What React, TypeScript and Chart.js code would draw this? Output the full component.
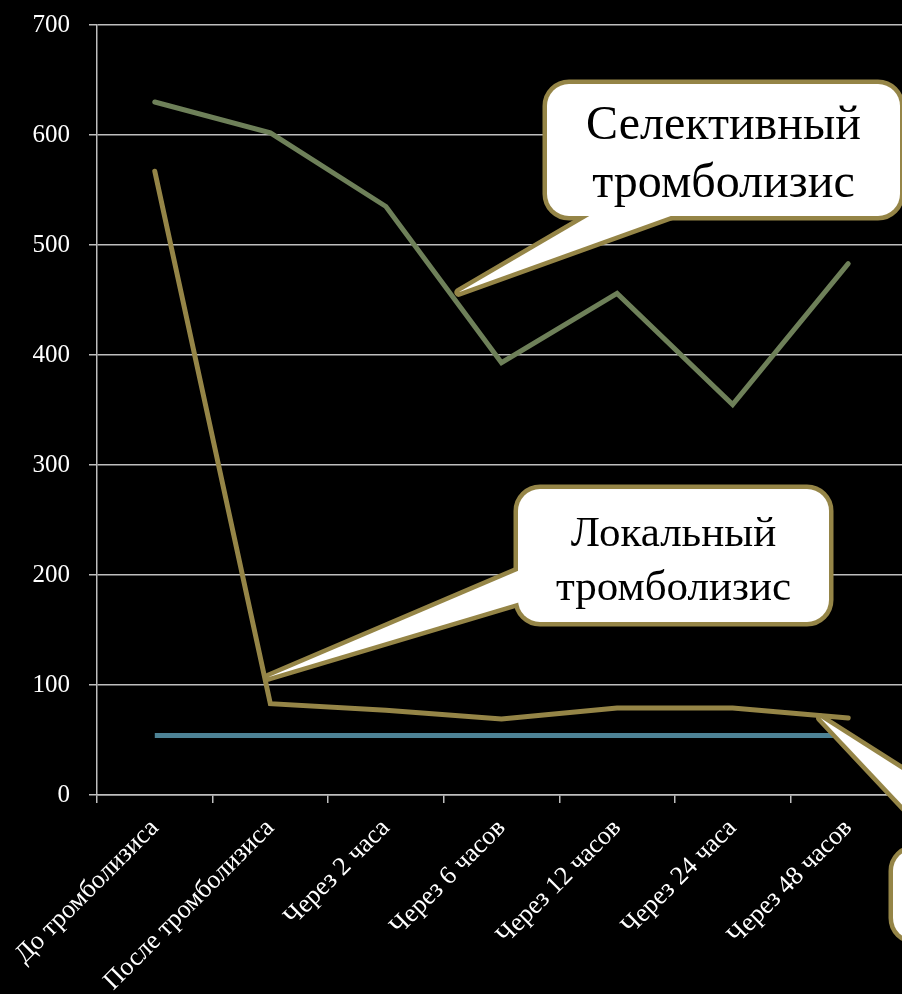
import React, { useEffect, useRef } from "react";
import { Chart, registerables } from "chart.js";

Chart.register(...registerables);

// Categories and series values
const categories = [
  "До тромболизиса",
  "После тромболизиса",
  "Через 2 часа",
  "Через 6 часов",
  "Через 12 часов",
  "Через 24 часа",
  "Через 48 часов",
];
const selectiveValues = [630, 602, 535, 393, 456, 355, 483];
const localValues = [567, 83, 77, 69, 79, 79, 70];
const baselineValues = [54, 54, 54, 54, 54, 54, 54];

const yTicks = [0, 100, 200, 300, 400, 500, 600, 700];

const GREEN = "#6E8059";
const GOLD = "#958547";
const TEAL = "#4D8295";
const GRID = "#BEBEBE";
const SERIF = "'Liberation Serif', 'Times New Roman', serif";

type Callout = {
  lines: string[];
  fontSize: number;
  lineHeight: number;
  textShift: number;
  box: { x: number; y: number; w: number; h: number };
  base: [number, number][];
  tip: { index: number; value: number };
};

// Speech-bubble labels; the tail points at a spot given in data units
const callouts: Callout[] = [
  {
    lines: ["Селективный", "тромболизис"],
    fontSize: 48,
    lineHeight: 58,
    textShift: 5,
    box: { x: 547, y: 84, w: 353, h: 132 },
    base: [
      [603, 208],
      [693, 208],
    ],
    tip: { index: 2.63, value: 457 },
  },
  {
    lines: ["Локальный", "тромболизис"],
    fontSize: 43,
    lineHeight: 54,
    textShift: 6,
    box: { x: 518, y: 489, w: 311, h: 133 },
    base: [
      [527, 567],
      [527, 600],
    ],
    tip: { index: 0.98, value: 107 },
  },
  {
    lines: [""],
    fontSize: 43,
    lineHeight: 54,
    textShift: 0,
    box: { x: 893, y: 849, w: 310, h: 91 },
    base: [
      [951, 857],
      [1039, 857],
    ],
    tip: { index: 5.76, value: 70 },
  },
];

function roundRect(ctx: CanvasRenderingContext2D, x: number, y: number, w: number, h: number, r: number) {
  ctx.beginPath();
  ctx.moveTo(x + r, y);
  ctx.lineTo(x + w - r, y);
  ctx.arcTo(x + w, y, x + w, y + r, r);
  ctx.lineTo(x + w, y + h - r);
  ctx.arcTo(x + w, y + h, x + w - r, y + h, r);
  ctx.lineTo(x + r, y + h);
  ctx.arcTo(x, y + h, x, y + h - r, r);
  ctx.lineTo(x, y + r);
  ctx.arcTo(x, y, x + r, y, r);
  ctx.closePath();
}

const calloutPlugin = {
  id: "callouts",
  afterDatasetsDraw(chart: any) {
    const ctx: CanvasRenderingContext2D = chart.ctx;
    const xs = chart.scales.x;
    const ys = chart.scales.y;
    ctx.save();
    for (const c of callouts) {
      const tx = xs.getPixelForValue(c.tip.index);
      const ty = ys.getPixelForValue(c.tip.value);
      const { x, y, w, h } = c.box;
      const tail = () => {
        ctx.beginPath();
        ctx.moveTo(c.base[0][0], c.base[0][1]);
        ctx.lineTo(tx, ty);
        ctx.lineTo(c.base[1][0], c.base[1][1]);
        ctx.closePath();
      };
      ctx.lineWidth = 9;
      ctx.strokeStyle = GOLD;
      ctx.lineJoin = "round";
      roundRect(ctx, x, y, w, h, 22);
      ctx.stroke();
      tail();
      ctx.stroke();
      ctx.fillStyle = "#FFFFFF";
      roundRect(ctx, x, y, w, h, 22);
      ctx.fill();
      tail();
      ctx.fill();

      ctx.fillStyle = "#000000";
      ctx.font = `${c.fontSize}px ${SERIF}`;
      ctx.textAlign = "center";
      ctx.textBaseline = "middle";
      const cx = x + w / 2;
      const cy = y + h / 2 + c.textShift;
      const n = c.lines.length;
      c.lines.forEach((t, i) => {
        ctx.fillText(t, cx, cy + (i - (n - 1) / 2) * c.lineHeight);
      });
    }
    ctx.restore();
  },
};

export default function App() {
  const ref = useRef<HTMLCanvasElement | null>(null);

  useEffect(() => {
    document.body.style.margin = "0";
    document.body.style.background = "#000";
    const canvas = ref.current!;
    const chart = new Chart(canvas, {
      type: "line",
      data: {
        labels: categories,
        datasets: [
          {
            label: "Селективный тромболизис",
            data: selectiveValues,
            borderColor: GREEN,
            borderWidth: 5,
            pointRadius: 0,
            borderCapStyle: "round",
            tension: 0,
          },
          {
            label: "Локальный тромболизис",
            data: localValues,
            borderColor: GOLD,
            borderWidth: 5,
            pointRadius: 0,
            borderCapStyle: "round",
            tension: 0,
          },
          {
            label: "Норма",
            data: baselineValues,
            borderColor: TEAL,
            borderWidth: 5,
            pointRadius: 0,
            tension: 0,
          },
        ],
      },
      options: {
        responsive: false,
        animation: false,
        devicePixelRatio: 1,
        layout: { padding: { top: 25, right: 0, left: 0, bottom: 0 } },
        plugins: {
          legend: { display: false },
          tooltip: { enabled: false },
        },
        scales: {
          x: {
            offset: true,
            grid: {
              offset: true,
              drawOnChartArea: false,
              drawTicks: true,
              tickLength: 8,
              color: GRID,
              lineWidth: 1.5,
            },
            border: { display: true, color: GRID, width: 1.5 },
            ticks: {
              color: "#FFFFFF",
              font: { family: SERIF, size: 26 },
              minRotation: 45,
              maxRotation: 45,
              autoSkip: false,
              padding: 10,
            },
            afterFit(scale: any) {
              scale.height = 199;
            },
          },
          y: {
            min: 0,
            max: 700,
            afterBuildTicks(scale: any) {
              scale.ticks = yTicks.map((v) => ({ value: v }));
            },
            grid: {
              color: GRID,
              lineWidth: 1.5,
              tickLength: 8,
            },
            border: { display: true, color: GRID, width: 1.5 },
            ticks: {
              color: "#FFFFFF",
              font: { family: SERIF, size: 25 },
              padding: 19,
            },
            afterFit(scale: any) {
              scale.width = 97;
              scale.paddingTop = 0;
              scale.paddingBottom = 0;
            },
          },
        },
      },
      plugins: [calloutPlugin],
    } as any);
    return () => chart.destroy();
  }, []);

  return (
    <div
      style={{
        position: "fixed",
        left: 0,
        top: 0,
        width: 902,
        height: 994,
        overflow: "hidden",
        background: "#000",
      }}
    >
      <canvas ref={ref} width={906} height={994} style={{ position: "absolute", left: 0, top: 0 }} />
    </div>
  );
}
